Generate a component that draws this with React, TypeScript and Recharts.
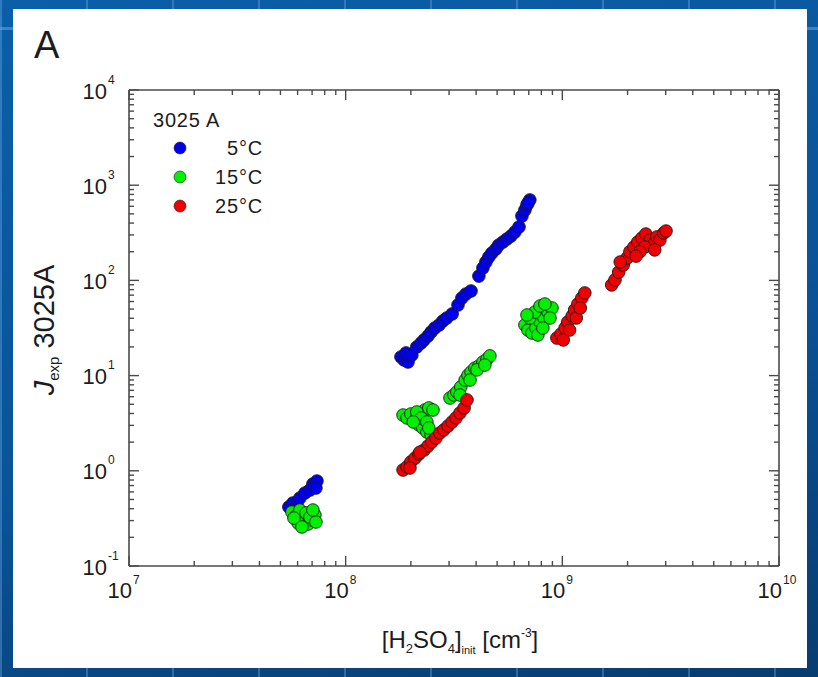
import React from 'react';
import { ScatterChart, Scatter, XAxis, YAxis } from 'recharts';

// Values (log-log axes).
const blueLowX = [5.47e7, 5.71e7, 5.96e7, 6.15e7, 6.49e7, 6.84e7, 7.06e7, 7.37e7, 7.29e7, 5.77e7];
const blueLowY = [0.417, 0.459, 0.437, 0.518, 0.585, 0.628, 0.726, 0.781, 0.659, 0.387];
const blueLineX = [
  1.8e8, 1.86e8, 1.94e8, 1.9e8, 2.02e8, 2.13e8, 2.23e8, 2.3e8, 2.4e8, 2.48e8, 2.58e8, 2.7e8,
  2.81e8, 2.93e8, 3.1e8, 3.3e8, 3.44e8, 3.59e8, 3.79e8, 4.12e8, 4.3e8, 4.44e8, 4.58e8, 4.73e8,
  4.94e8, 5.09e8, 5.32e8, 5.55e8, 5.79e8, 6.04e8, 6.31e8, 6.51e8, 6.72e8, 6.87e8, 7.08e8, 6.94e8,
];
const blueLineY = [
  15.7, 14.6, 13.9, 17.3, 16.4, 20.0, 22.0, 23.7, 26.1, 28.7, 31.6, 34.0,
  37.5, 40.3, 44.4, 55.2, 65.3, 72.0, 77.4, 111, 135, 156, 176, 194,
  214, 235, 253, 272, 292, 322, 364, 474, 548, 620, 700, 650,
];

const greenLowX = [5.65e7, 5.9e7, 6.15e7, 6.42e7, 6.7e7, 6.99e7, 7.21e7, 6.15e7, 6.56e7, 6.84e7, 6.03e7, 5.77e7, 7.29e7, 6.28e7, 7.06e7];
const greenLowY = [0.369, 0.335, 0.312, 0.29, 0.276, 0.304, 0.344, 0.387, 0.361, 0.327, 0.283, 0.319, 0.29, 0.257, 0.387];
const greenMidX = [1.84e8, 1.92e8, 2.0e8, 2.09e8, 2.18e8, 2.27e8, 2.37e8, 2.48e8, 2.32e8, 2.42e8, 2.53e8, 2.13e8, 2.23e8, 2.37e8, 2.05e8, 2.42e8];
const greenMidY = [3.85, 3.59, 3.95, 3.42, 3.03, 2.82, 2.56, 2.38, 4.35, 4.57, 4.35, 4.15, 3.59, 3.26, 3.26, 2.82];
const greenRiseX = [3.03e8, 3.16e8, 3.26e8, 3.4e8, 3.56e8, 3.67e8, 3.79e8, 3.95e8, 4.12e8, 4.3e8, 4.49e8, 4.63e8, 3.37e8, 3.75e8, 4.04e8, 4.39e8];
const greenRiseY = [5.82, 6.25, 6.73, 7.59, 8.99, 10.1, 10.9, 12.0, 12.6, 13.9, 14.9, 16.1, 6.25, 8.99, 11.5, 12.9];
const greenUpX = [6.72e8, 6.94e8, 7.24e8, 7.55e8, 7.89e8, 8.22e8, 8.59e8, 8.96e8, 7.08e8, 7.48e8, 7.89e8, 8.31e8, 8.77e8, 7.71e8, 6.87e8, 8.13e8];
const greenUpY = [34.0, 30.1, 28.0, 31.6, 36.6, 40.3, 46.6, 51.3, 40.3, 46.6, 53.8, 56.5, 40.3, 26.7, 43.3, 31.6];

const redLowX = [1.84e8, 1.92e8, 2.0e8, 2.09e8, 2.18e8, 2.3e8, 2.4e8, 2.5e8, 2.61e8, 2.72e8, 2.84e8, 2.97e8, 3.1e8, 3.23e8, 3.37e8, 3.52e8, 3.63e8, 1.98e8, 2.2e8];
const redLowY = [1.02, 1.1, 1.24, 1.36, 1.5, 1.65, 1.82, 2.01, 2.21, 2.49, 2.69, 2.96, 3.26, 3.59, 4.05, 4.57, 5.55, 1.07, 1.57];
const redMidX = [9.44e8, 9.86e8, 1.03e9, 1.06e9, 1.11e9, 1.14e9, 1.18e9, 1.23e9, 1.27e9, 1.01e9, 1.08e9, 1.16e9, 1.21e9];
const redMidY = [24.8, 27.4, 31.6, 36.6, 42.3, 48.9, 56.5, 65.3, 73.8, 23.7, 30.1, 40.3, 51.3];
const redUpX = [1.69e9, 1.75e9, 1.82e9, 1.91e9, 1.99e9, 2.05e9, 2.14e9, 2.23e9, 2.33e9, 2.43e9, 2.54e9, 2.65e9, 2.73e9, 2.82e9, 2.94e9, 2.4e9, 2.67e9, 2.28e9, 1.85e9, 3.01e9, 2.19e9];
const redUpY = [89.6, 101, 122, 145, 172, 200, 224, 253, 279, 307, 265, 241, 286, 265, 315, 224, 209, 200, 156, 330, 180];

const seriesNames = ['5°C', '15°C', '25°C'];
const seriesColors = ['#0000f0', '#00f000', '#f00000'];

const xMajor = [1e7, 1e8, 1e9, 1e10];
const yMajor = [0.1, 1, 10, 100, 1000, 10000];

const pairs = (xs: number[], ys: number[]) => xs.map((x, i) => ({ x, y: ys[i] }));

const blueData = [...pairs(blueLowX, blueLowY), ...pairs(blueLineX, blueLineY)];
const greenData = [
  ...pairs(greenLowX, greenLowY),
  ...pairs(greenMidX, greenMidY),
  ...pairs(greenRiseX, greenRiseY),
  ...pairs(greenUpX, greenUpY),
];
const redData = [...pairs(redLowX, redLowY), ...pairs(redMidX, redMidY), ...pairs(redUpX, redUpY)];

// major + minor tick positions for a log axis
const withMinors = (majors: number[]) => {
  const out: number[] = [];
  majors.forEach((m, i) => {
    out.push(m);
    if (i < majors.length - 1) for (let k = 2; k <= 9; k++) out.push(m * k);
  });
  return out;
};
const xTicks = withMinors(xMajor);
const yTicks = withMinors(yMajor);

const FONT = '"Liberation Sans", Arial, sans-serif';
const TEXT = '#1c1c1c';
const FRAME = '#4a4a4a';
const MAJOR_LEN = 10;
const MINOR_LEN = 5;

const isMajor = (v: number) => Math.abs(Math.log10(v) - Math.round(Math.log10(v))) < 1e-6;
const expOf = (v: number) => String(Math.round(Math.log10(v)));

const BottomTick = (props: any) => {
  const { x, y, payload } = props;
  const major = isMajor(payload.value);
  return (
    <g>
      <line x1={x} y1={y} x2={x} y2={y - (major ? MAJOR_LEN : MINOR_LEN)} stroke={FRAME} strokeWidth={1.4} />
      {major && (
        <g fontFamily={FONT} fill={TEXT}>
          <text x={x + 3} y={y + 32} fontSize={22} textAnchor="end">10</text>
          <text x={x + 4} y={y + 18} fontSize={12} textAnchor="start">{expOf(payload.value)}</text>
        </g>
      )}
    </g>
  );
};

const TopTick = (props: any) => {
  const { x, y, payload } = props;
  const major = isMajor(payload.value);
  return <line x1={x} y1={y} x2={x} y2={y + (major ? MAJOR_LEN : MINOR_LEN)} stroke={FRAME} strokeWidth={1.4} />;
};

const LeftTick = (props: any) => {
  const { x, y, payload } = props;
  const major = isMajor(payload.value);
  return (
    <g>
      <line x1={x} y1={y} x2={x + (major ? MAJOR_LEN : MINOR_LEN)} y2={y} stroke={FRAME} strokeWidth={1.4} />
      {major && (
        <g fontFamily={FONT} fill={TEXT}>
          <text x={x - 22} y={y + 8.5} fontSize={22} textAnchor="end">10</text>
          <text x={x - 21} y={y - 6.5} fontSize={12} textAnchor="start">{expOf(payload.value)}</text>
        </g>
      )}
    </g>
  );
};

const RightTick = (props: any) => {
  const { x, y, payload } = props;
  const major = isMajor(payload.value);
  return <line x1={x} y1={y} x2={x - (major ? MAJOR_LEN : MINOR_LEN)} y2={y} stroke={FRAME} strokeWidth={1.4} />;
};

const dot = (color: string) => (props: any) => (
  <circle cx={props.cx} cy={props.cy} r={6.3} fill={color} stroke="#1a1a1a" strokeWidth={0.9} />
);

const logAxis = {
  type: 'number' as const,
  scale: 'log' as const,
  allowDataOverflow: true,
  interval: 0 as const,
  tickSize: 0,
  tickMargin: 0,
  tickLine: false,
  axisLine: { stroke: FRAME, strokeWidth: 1.6 },
};

const Overlay = () => (
  <svg width={818} height={677} style={{ position: 'absolute', left: 0, top: 0, pointerEvents: 'none' }}>
    <g fontFamily={FONT} fill={TEXT}>
      <text x={34} y={58} fontSize={38}>A</text>

      {/* legend */}
      <text x={153} y={127} fontSize={20} letterSpacing={0.8}>3025 A</text>
      {seriesNames.map((name, i) => (
        <g key={name}>
          <circle cx={180} cy={148 + i * 29} r={6} fill={seriesColors[i]} stroke="#1a1a1a" strokeWidth={0.6} />
          <text x={263} y={155 + i * 29} fontSize={20} textAnchor="end" letterSpacing={0.8}>{name}</text>
        </g>
      ))}

      {/* x-axis title */}
      <text x={460} y={648} fontSize={24} textAnchor="middle">
        [H<tspan fontSize={13} dy={5}>2</tspan>
        <tspan dy={-5}>SO</tspan>
        <tspan fontSize={13} dy={5}>4</tspan>
        <tspan dy={-5}>]</tspan>
        <tspan fontSize={11} dy={6}>init</tspan>
        <tspan dy={-6}> [cm</tspan>
        <tspan fontSize={12} dy={-11}>-3</tspan>
        <tspan dy={11}>]</tspan>
      </text>

      {/* y-axis title */}
      <text x={54} y={330} fontSize={29} textAnchor="middle" transform="rotate(-90 54 330)">
        <tspan fontStyle="italic">J</tspan>
        <tspan fontSize={15} dy={5}>exp</tspan>
        <tspan dy={-5}> 3025A</tspan>
      </text>
    </g>
  </svg>
);

export default function App() {
  return (
    <div
      style={{
        position: 'absolute',
        left: 0,
        top: 0,
        width: 818,
        height: 677,
        overflow: 'hidden',
        background: 'linear-gradient(165deg, #0a5fa8 0%, #0a5398 55%, #073c70 100%)',
      }}
    >
      {/* faint slide grid lines */}
      <div
        style={{
          position: 'absolute',
          inset: 0,
          background:
            'repeating-linear-gradient(90deg, rgba(120,180,235,0.35) 0 2px, transparent 2px 86px), linear-gradient(180deg, transparent 27px, rgba(120,180,235,0.45) 27px 30px, transparent 30px)',
        }}
      />
      <div style={{ position: 'absolute', left: 13, top: 9, width: 794, height: 659, background: '#fff' }} />
      <div style={{ position: 'absolute', left: 0, top: 0 }}>
        <ScatterChart width={818} height={677} margin={{ top: 89, right: 38, bottom: 0, left: 0 }}>
          <XAxis {...logAxis} xAxisId="b" dataKey="x" orientation="bottom" height={111} domain={[1e7, 1e10]} ticks={xTicks} tick={<BottomTick />} />
          <XAxis {...logAxis} xAxisId="t" dataKey="x" orientation="top" height={1} domain={[1e7, 1e10]} ticks={xTicks} tick={<TopTick />} />
          <YAxis {...logAxis} yAxisId="l" dataKey="y" orientation="left" width={129} domain={[0.1, 10000]} ticks={yTicks} tick={<LeftTick />} />
          <YAxis {...logAxis} yAxisId="r" dataKey="y" orientation="right" width={1} domain={[0.1, 10000]} ticks={yTicks} tick={<RightTick />} />
          {/* empty series so the mirrored frame axes are drawn */}
          <Scatter data={[]} xAxisId="t" yAxisId="r" isAnimationActive={false} legendType="none" />
          <Scatter name={seriesNames[0]} data={blueData} xAxisId="b" yAxisId="l" shape={dot(seriesColors[0])} isAnimationActive={false} />
          <Scatter name={seriesNames[1]} data={greenData} xAxisId="b" yAxisId="l" shape={dot(seriesColors[1])} isAnimationActive={false} />
          <Scatter name={seriesNames[2]} data={redData} xAxisId="b" yAxisId="l" shape={dot(seriesColors[2])} isAnimationActive={false} />
        </ScatterChart>
      </div>
      <Overlay />
    </div>
  );
}
